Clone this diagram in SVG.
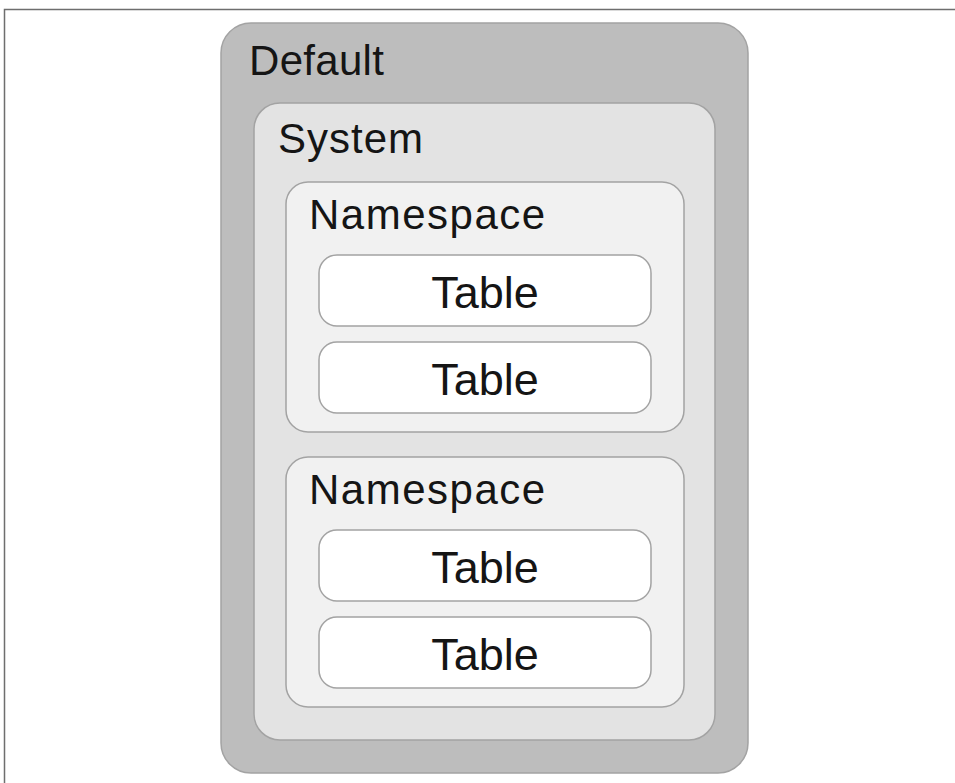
<svg xmlns="http://www.w3.org/2000/svg" width="955" height="783" viewBox="0 0 955 783">
<style>
.t{font-family:"Liberation Sans",Arial,sans-serif;fill:#151515;}
.lbl{font-size:42px;}
.ns{letter-spacing:1.5px;}
.tbl{font-size:45px;text-anchor:middle;}
.b{stroke:#a3a3a3;stroke-width:1.5;}
</style>
<rect x="0" y="0" width="955" height="783" fill="#fff"/>
<rect x="4.5" y="9.5" width="960" height="800" fill="none" stroke="#6e6e6e" stroke-width="1.5"/>
<g id="default">
<rect class="b" x="221" y="23" width="527" height="750" rx="30" fill="#bdbdbd"/>
<text class="t lbl" x="249" y="75" style="letter-spacing:0.3px">Default</text>
</g>
<g id="system">
<rect class="b" x="254" y="103" width="461" height="637" rx="26" fill="#e3e3e3"/>
<text class="t lbl" x="278" y="153" style="letter-spacing:1px">System</text>
</g>
<g id="namespace1">
<rect class="b" x="286" y="182" width="398" height="250" rx="22" fill="#f1f1f1"/>
<text class="t lbl ns" x="309" y="229">Namespace</text>
</g>
<g id="table1">
<rect class="b" x="319" y="255" width="332" height="71" rx="18" fill="#fff"/>
<text class="t tbl" x="485" y="308">Table</text>
</g>
<g id="table2">
<rect class="b" x="319" y="342" width="332" height="71" rx="18" fill="#fff"/>
<text class="t tbl" x="485" y="395">Table</text>
</g>
<g id="namespace2">
<rect class="b" x="286" y="457" width="398" height="250" rx="22" fill="#f1f1f1"/>
<text class="t lbl ns" x="309" y="504">Namespace</text>
</g>
<g id="table3">
<rect class="b" x="319" y="530" width="332" height="71" rx="18" fill="#fff"/>
<text class="t tbl" x="485" y="583">Table</text>
</g>
<g id="table4">
<rect class="b" x="319" y="617" width="332" height="71" rx="18" fill="#fff"/>
<text class="t tbl" x="485" y="670">Table</text>
</g>
<g id="connectors"></g>
</svg>
